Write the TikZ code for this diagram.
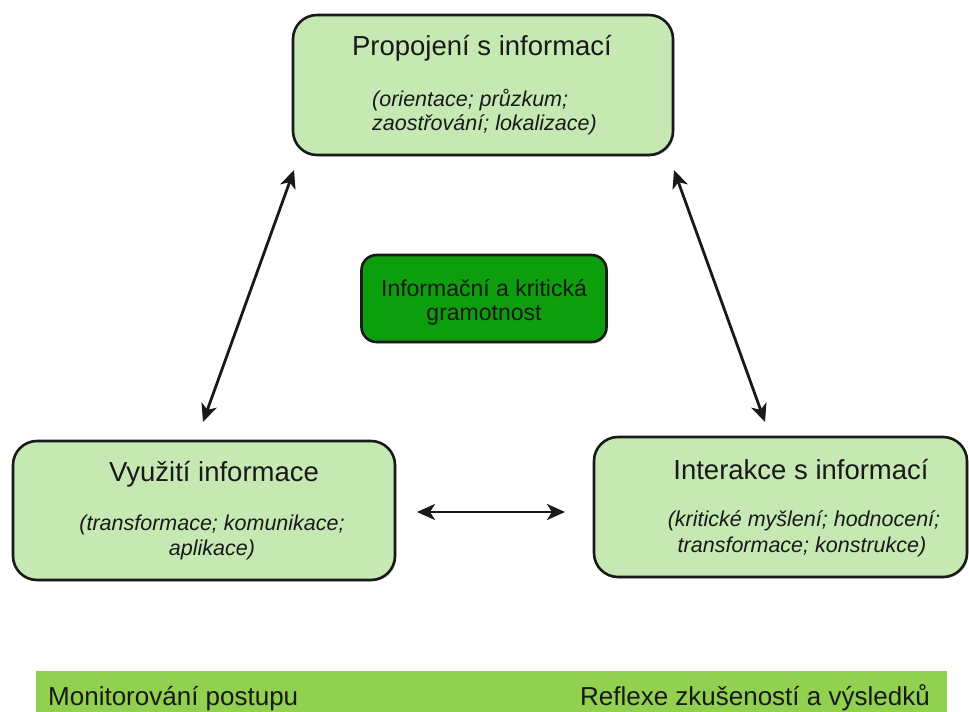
\documentclass[tikz,border=0pt]{standalone}
\usepackage{fontspec}
\setmainfont{Liberation Sans}
\usetikzlibrary{arrows.meta,shadows}
\definecolor{boxfill}{RGB}{198,232,178}
\definecolor{corefill}{RGB}{12,158,12}
\definecolor{barfill}{RGB}{146,208,80}
\definecolor{ink}{RGB}{25,25,25}
\begin{document}
\begin{tikzpicture}[x=1pt,y=-1pt,
  box/.style={draw=ink, line width=2.6pt, rounded corners=24pt, fill=boxfill, inner sep=0pt,
    drop shadow={shadow xshift=1.5pt, shadow yshift=-1.5pt, opacity=0.3}},
  corebox/.style={box, fill=corefill, rounded corners=15pt},
  title/.style={anchor=base, inner sep=0pt, text=ink, font=\fontsize{27.5}{33}\selectfont},
  note/.style={anchor=base, inner sep=0pt, text=ink, font=\fontsize{21.5}{25}\selectfont\itshape},
  coretext/.style={anchor=base, inner sep=0pt, text=ink, font=\fontsize{23}{27}\selectfont},
  bartext/.style={inner sep=0pt, text=ink, font=\fontsize{26}{30}\selectfont},
  conn/.style={line width=2.8pt, draw=ink, {Stealth[length=18pt,width=16pt,inset=5pt]}-{Stealth[length=18pt,width=16pt,inset=5pt]}}
]
\useasboundingbox (0,0) rectangle (969,712);

% boxes
\node[box, minimum width=380pt, minimum height=140pt] (top) at (483,85) {};
\node[box, minimum width=382pt, minimum height=139pt] (left) at (204,510.5) {};
\node[box, minimum width=373pt, minimum height=140pt] (right) at (780.5,507) {};
\node[corebox, minimum width=245pt, minimum height=87pt] (core) at (484,298.5) {};

% top box texts
\node[title] (toptitle) at (482,55) {Propojení s informací};
\node[note, anchor=base west] (topnote1) at (372,106) {(orientace; průzkum;};
\node[note, anchor=base west] (topnote2) at (372,130) {zaostřování; lokalizace)};

% left box texts
\node[title] (lefttitle) at (214,481) {Využití informace};
\node[note] (leftnote1) at (212,530) {(transformace; komunikace;};
\node[note] (leftnote2) at (212,555) {aplikace)};

% right box texts
\node[title] (righttitle) at (801,479) {Interakce s informací};
\node[note] (rightnote1) at (804,526) {(kritické myšlení; hodnocení;};
\node[note] (rightnote2) at (802,552) {transformace; konstrukce)};

% core texts
\node[coretext] (core1) at (484,296) {Informační a kritická};
\node[coretext] (core2) at (484,320) {gramotnost};

% bottom bar
\node[fill=barfill, inner sep=0pt, minimum width=911pt, minimum height=41pt] (bar) at (491.5,691.5) {};
\node[bartext, anchor=base west] (barleft) at (48,705) {Monitorování postupu};
\node[bartext, anchor=base east] (barright) at (930,705) {Reflexe zkušeností a výsledků};

% connectors
\coordinate (la1) at (294,170);
\coordinate (la2) at (203,422);
\coordinate (ra1) at (674,170);
\coordinate (ra2) at (765,422);
\coordinate (ha1) at (417,512);
\coordinate (ha2) at (565,512);
\draw[conn] (la1) -- (la2);
\draw[conn] (ra1) -- (ra2);
\draw[conn] (ha1) -- (ha2);
\end{tikzpicture}
\end{document}
